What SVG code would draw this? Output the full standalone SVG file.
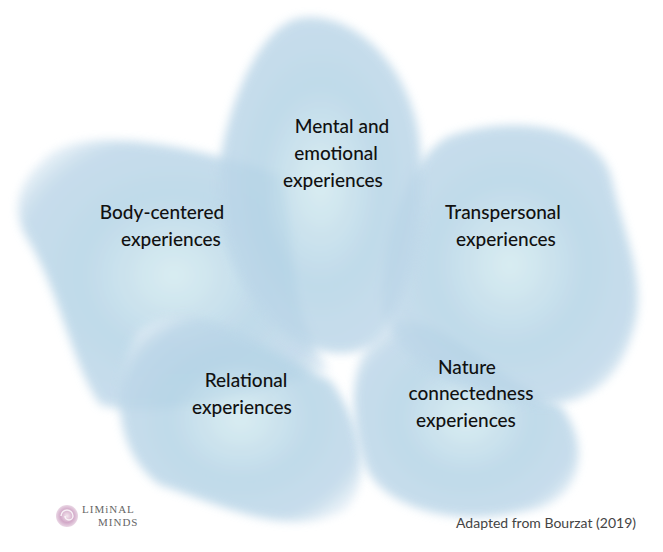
<svg xmlns="http://www.w3.org/2000/svg" width="663" height="552" viewBox="0 0 663 552">
<defs>
<radialGradient id="g" cx="0.5" cy="0.5" r="0.6">
<stop offset="0" stop-color="#d3eaf0"/>
<stop offset="0.5" stop-color="#b5d4e6"/>
<stop offset="0.85" stop-color="#bfd8e9"/>
<stop offset="1" stop-color="#e4eef6"/>
</radialGradient>
<radialGradient id="sp" cx="0.5" cy="0.5" r="0.5">
<stop offset="0" stop-color="#f4e6ee"/>
<stop offset="0.6" stop-color="#d2a9c8"/>
<stop offset="1" stop-color="#e9d6e4"/>
</radialGradient>
<filter id="soft" x="-10%" y="-10%" width="120%" height="120%"><feGaussianBlur stdDeviation="5"/></filter>
<style>
.b{fill:url(#g);filter:url(#soft);opacity:0.85}
.t{font-family:Lato,"Open Sans",sans-serif;font-size:19px;font-weight:500;fill:#111;text-anchor:middle}
</style>
</defs>
<rect width="663" height="552" fill="#fff"/>
<g id="body"><path class="b" d="M45,158 C85,122 200,148 280,175 C300,240 280,300 330,370 C250,395 150,420 100,405 C70,360 60,290 25,235 C10,205 20,180 45,158 Z"/></g>
<g id="relational"><path class="b" d="M140,330 C200,290 260,350 330,380 C360,420 375,480 345,510 C290,540 220,505 160,485 C110,450 110,370 140,330 Z"/></g>
<g id="nature"><path class="b" d="M385,325 C430,300 500,385 560,405 C592,445 585,505 520,512 C450,528 380,505 365,465 C350,420 345,355 385,325 Z"/></g>
<g id="transpersonal"><path class="b" d="M445,138 C500,115 600,120 612,180 C622,230 650,285 632,335 C612,400 560,420 480,392 C440,380 380,350 382,300 C384,235 405,165 445,138 Z"/></g>
<g id="mental"><path class="b" d="M300,18 C350,10 405,60 418,130 C430,200 420,300 380,340 C350,365 300,352 270,322 C232,282 212,222 220,160 C230,100 260,25 300,18 Z"/></g>
<g id="labels">
<text class="t" x="342" y="133">Mental and</text>
<text class="t" x="336" y="160">emotional</text>
<text class="t" x="333" y="187">experiences</text>
<text class="t" x="162" y="219">Body-centered</text>
<text class="t" x="171" y="246">experiences</text>
<text class="t" x="503" y="219">Transpersonal</text>
<text class="t" x="506" y="246">experiences</text>
<text class="t" x="246" y="387">Relational</text>
<text class="t" x="242" y="414">experiences</text>
<text class="t" x="467" y="374">Nature</text>
<text class="t" x="471" y="400">connectedness</text>
<text class="t" x="466" y="427">experiences</text>
</g>
<g id="connectors"></g>
<g id="logo">
<circle cx="67" cy="516" r="11" fill="url(#sp)"/>
<path d="M67,516 m-6,0 a6,6 0 0 1 12,0 a4,4 0 0 1 -8,0" fill="none" stroke="#fff" stroke-width="1.5" opacity="0.8"/>
<text x="82" y="513" font-family="Liberation Serif,serif" font-size="11" fill="#666" letter-spacing="1">LIMiNAL</text>
<text x="98" y="526" font-family="Liberation Serif,serif" font-size="11" fill="#666" letter-spacing="1">MINDS</text>
</g>
<text x="636" y="528" font-family="Lato,sans-serif" font-size="14" fill="#444" text-anchor="end">Adapted from Bourzat (2019)</text>
</svg>
